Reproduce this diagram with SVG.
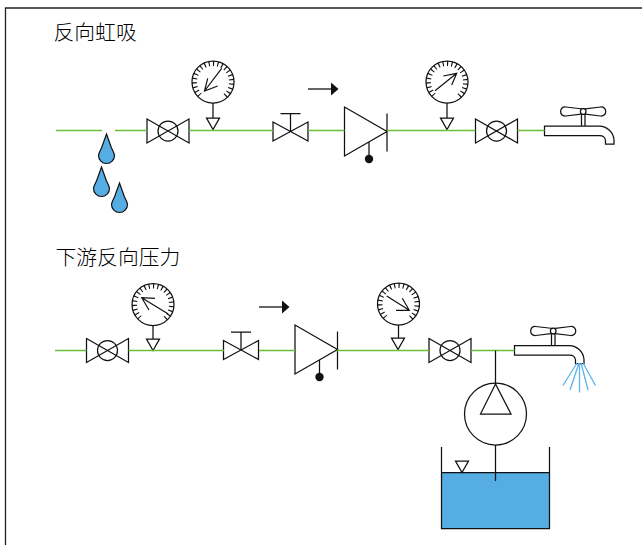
<svg xmlns="http://www.w3.org/2000/svg" width="642" height="545" viewBox="0 0 642 545">
<style>
.s{fill:none;stroke:#111;stroke-width:1.25}
.w{fill:#fff;stroke:#111;stroke-width:1.25}
.g{fill:none;stroke:#69bf3c;stroke-width:1.3}
.d{fill:#55ade3;stroke:#111;stroke-width:1.2}
.b{fill:none;stroke:#5fb3ea;stroke-width:1.3}
.n{fill:none;stroke:#111;stroke-width:1.2}
.t{font-family:"Noto Sans CJK SC","Noto Sans",sans-serif;font-size:20.8px;font-weight:300;fill:#000}
</style>
<defs>
<g id="valve"><path class="s" d="M-21-12L21 12V-12L-21 12Z"/><circle class="s" r="10"/></g>
<g id="gate"><path class="s" d="M-17.500-9.500L17.500 9.500V-9.500L-17.500 9.500Z"/><path class="s" d="M0 0V-18M-10-18H10"/></g>
<g id="gauge"><circle class="w" r="21"/><circle cx="0" cy="0" r="18.500" fill="none" stroke="#111" stroke-width="5" pathLength="360" transform="rotate(135)" stroke-dasharray="3.500 10 3.500 10 3.500 10 3.500 10 3.500 10 3.500 10 3.500 10 3.500 10 3.500 10 3.500 10 3.500 10 3.500 10 3.500 10 3.500 10 3.500 10 3.500 10 3.500 10 3.500 10 3.500 10 3.500 10 3.500 86.500"/></g>
<g id="tap"><path class="s" d="M0 0V9.500H55Q60.500 9.500 61 14.500V18H69.500V14C69 6 62 0 55 0Z"/><path class="s" d="M37-13V0M40.500-13V0"/><path class="w" d="M38.700-17L21-19C14.500-19.500 14.500-9.500 21-10L38.700-12L56-10C63-9.500 63-19.500 56-19Z"/><circle class="w" cx="38.700" cy="-14.500" r="2.800"/></g>
<path id="drop" class="d" d="M0 0L5 14C7 18 8 19.500 8 21.500A8 8 0 0 1-8 21.500C-8 19.500-7 18-5 14Z"/>
<g id="tri"><path class="s" d="M-6.500 0H6.500L0 11.500Z"/></g>
<g id="arrow"><path d="M0 0H24" stroke="#111" stroke-width="1.300"/><path d="M23-6.500L30.500 0L23 6.500Z" fill="#111"/></g>
<g id="check"><path class="s" d="M0-24.500V24.500L42.500 0ZM42.500-18V20M24.500 10.500V27"/><circle cx="24.500" cy="27.500" r="4.200" fill="#111"/></g>
</defs>
<g id="frame"><path d="M5.500 545V8H642" fill="none" stroke="#222" stroke-width="1.300"/></g>
<g id="title-1"><text class="t" x="53.500" y="40">反向虹吸</text></g>
<g id="title-2"><text class="t" x="55.500" y="265">下游反向压力</text></g>
<g id="drops"><use href="#drop" x="106.500" y="134"/><use href="#drop" x="101.500" y="167"/><use href="#drop" x="119.500" y="183"/></g>
<g id="valve-1"><use href="#valve" x="168" y="131"/></g>
<g id="gauge-1"><use href="#gauge" x="213" y="82"/><path class="n" d="M204.500 91L221.700 68.300M207.700 78.300L204.500 91L217.700 86"/><use href="#tri" x="213" y="118"/></g>
<g id="gate-1"><use href="#gate" x="290.500" y="131.500"/></g>
<g id="arrow-1"><use href="#arrow" x="308" y="89"/></g>
<g id="check-1"><use href="#check" x="344.500" y="131.500"/></g>
<g id="gauge-2"><use href="#gauge" x="447" y="82"/><path class="n" d="M435 90.700L456.700 73.300M443.300 76L456.700 73.300L451.700 85"/><use href="#tri" x="447" y="118"/></g>
<g id="valve-2"><use href="#valve" x="496.500" y="131"/></g>
<g id="tap-1"><use href="#tap" x="544.500" y="126"/></g>
<g id="valve-3"><use href="#valve" x="107.500" y="350.500"/></g>
<g id="gauge-3"><use href="#gauge" x="153" y="304.500"/><path class="n" d="M168.300 314L141.700 297.700M155 298.300L141.700 297.700L149 310"/><use href="#tri" x="153" y="339"/></g>
<g id="gate-2"><use href="#gate" x="241" y="350"/></g>
<g id="arrow-2"><use href="#arrow" x="259" y="307"/></g>
<g id="check-2"><use href="#check" x="295" y="349.500"/></g>
<g id="gauge-4"><use href="#gauge" x="398.500" y="304"/><path class="n" d="M386.700 296L409.300 310.300M402.300 298.300L409.300 310.300L396 310.300"/><use href="#tri" x="398" y="338"/></g>
<g id="valve-4"><use href="#valve" x="450" y="350.500"/></g>
<g id="tap-2"><use href="#tap" x="514.500" y="345.500"/></g>
<g id="pump"><circle class="s" cx="495.500" cy="414" r="31"/><path class="s" d="M495.500 384L480.500 414H511Z"/></g>
<g id="tank"><rect x="441.500" y="472.500" width="108" height="56" fill="#55ade3"/><path class="s" d="M441.500 447V528.500H549.500V447M441.500 472.500H549.500"/><use href="#tri" x="462" y="461"/></g>
<g id="connectors">
<path class="g" d="M56 130.500H102M115 130.500H147M189 130.500H273M308 130.500H344.500M387 130.500H475.500M517.500 130.500H544.500"/>
<path class="g" d="M55 350.500H86.500M128.500 350.500H224M259 350.500H295M337 350.500H429M471 350.500H514.500"/>
<path class="s" d="M213 103V118M447 103V118M153 325.500V339M398.500 325V338M495.500 350.500V384M495.500 445V481"/>
<path class="b" d="M577 363L563 385.500M579 363L570 390M579.500 363V392.500M581 363L588 390M583 363L595.500 385.500"/>
</g>
</svg>
